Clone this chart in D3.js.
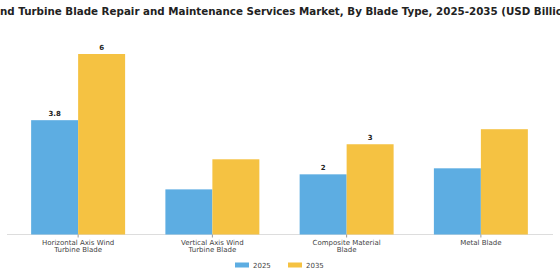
<!DOCTYPE html>
<html>
<head>
<meta charset="utf-8">
<script src="https://cdn.jsdelivr.net/npm/d3@7"></script>
<style>
  body { margin: 0; background: #fff; }
  text { font-family: "DejaVu Sans", sans-serif; }
</style>
</head>
<body>
<div id="chart"></div>
<script>
const width = 560;
const height = 280;

const title = "Wind Turbine Blade Repair and Maintenance Services Market, By Blade Type, 2025-2035 (USD Billion)";
const categories = [
  ["Horizontal Axis Wind", "Turbine Blade"],
  ["Vertical Axis Wind", "Turbine Blade"],
  ["Composite Material", "Blade"],
  ["Metal Blade"]
];
const seriesNames = ["2025", "2035"];
const values2025 = [3.8, 1.5, 2.0, 2.2];
const values2035 = [6.0, 2.5, 3.0, 3.5];
// only some bars carry a value label in the source
const labels2025 = ["3.8", null, "2", null];
const labels2035 = ["6", null, "3", null];
const colors = ["#5DADE2", "#F5C242"];

const margin = { top: 30, right: 12, bottom: 45, left: 11 };

var svg = d3.select("#chart").append("svg")
  .attr("width", width)
  .attr("height", height);

svg.append("text")
  .attr("x", width / 2)
  .attr("y", 15)
  .attr("text-anchor", "middle")
  .style("font-size", "10.3px")
  .style("font-weight", "bold")
  .style("fill", "#222")
  .text(title);

const x0 = d3.scaleBand()
  .domain(d3.range(categories.length))
  .range([margin.left, width - margin.right])
  .paddingInner(0.3)
  .paddingOuter(0.15);

const x1 = d3.scaleBand()
  .domain(seriesNames)
  .range([0, x0.bandwidth()]);

const y = d3.scaleLinear()
  .domain([0, 6])
  .range([234.5, 54]);

const rows = categories.map((c, i) => ({
  i: i,
  bars: [
    { key: "2025", value: values2025[i], label: labels2025[i], color: colors[0] },
    { key: "2035", value: values2035[i], label: labels2035[i], color: colors[1] }
  ]
}));

// baseline
svg.append("line")
  .attr("x1", 7).attr("x2", 553)
  .attr("y1", y(0)).attr("y2", y(0))
  .style("stroke", "#ddd")
  .style("stroke-width", 1);

var group = svg.selectAll("g.grp").data(rows).enter().append("g")
  .attr("class", "grp")
  .attr("transform", (d) => "translate(" + x0(d.i) + ",0)");

group.selectAll("rect").data((d) => d.bars).enter().append("rect")
  .attr("x", (d) => x1(d.key))
  .attr("y", (d) => y(d.value))
  .attr("width", x1.bandwidth())
  .attr("height", (d) => y(0) - y(d.value))
  .style("fill", (d) => d.color);

group.selectAll("text.val").data((d) => d.bars.filter((b) => b.label)).enter().append("text")
  .attr("class", "val")
  .attr("x", (d) => x1(d.key) + x1.bandwidth() / 2)
  .attr("y", (d) => y(d.value) - 4)
  .attr("text-anchor", "middle")
  .style("font-size", "7px")
  .style("font-weight", "bold")
  .style("fill", "#222")
  .text((d) => d.label);

// x axis ticks and wrapped labels
var tick = svg.selectAll("g.tick").data(categories).enter().append("g")
  .attr("class", "tick")
  .attr("transform", (d, i) => "translate(" + (x0(i) + x0.bandwidth() / 2) + "," + y(0) + ")");

tick.append("line")
  .attr("y1", 0).attr("y2", 3)
  .style("stroke", "#999");

tick.selectAll("text").data((d) => d).enter().append("text")
  .attr("y", (d, j) => 10 + j * 7.8)
  .attr("text-anchor", "middle")
  .style("font-size", "7px")
  .style("fill", "#444")
  .text((d) => d);

// legend
const legendX = [235, 288];
var legend = svg.selectAll("g.legend").data(seriesNames).enter().append("g")
  .attr("class", "legend")
  .attr("transform", (d, i) => "translate(" + legendX[i] + ",265)");

legend.append("rect")
  .attr("x", 0).attr("y", -2.5)
  .attr("width", 14).attr("height", 5)
  .style("fill", (d, i) => colors[i]);

legend.append("text")
  .attr("x", 18).attr("y", 2.5)
  .style("font-size", "7px")
  .style("fill", "#444")
  .text((d) => d);
</script>
</body>
</html>
